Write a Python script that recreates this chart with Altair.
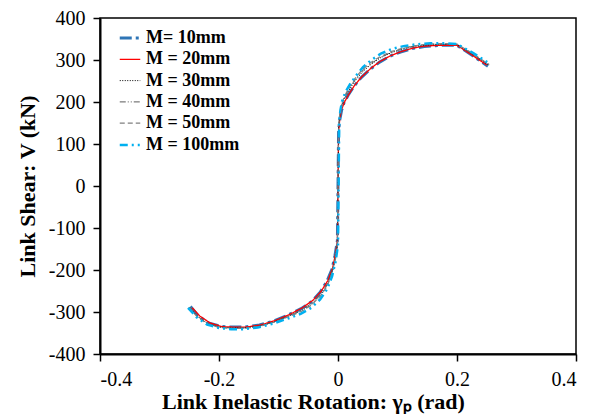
import altair as alt
import pandas as pd

series = ["M= 10mm", "M = 20mm", "M = 30mm", "M = 40mm", "M = 50mm", "M = 100mm"]
colors = ["#2E75B6", "#FF0000", "#000000", "#595959", "#808080", "#00B0F0"]
dashes = [[12, 4, 3, 4], [1, 0], [1, 1.5], [6, 2, 1, 2, 1, 2], [5, 3], [8, 4, 2, 4, 2, 4]]
widths = [3, 1.3, 1, 1, 1.2, 2.5]

x10 = [-0.248, -0.235, -0.218, -0.198, -0.178, -0.157, -0.132, -0.107, -0.082, -0.062, -0.044, -0.030, -0.019, -0.010, -0.005, -0.001,
       0.001, 0.003, 0.006, 0.010, 0.017, 0.027, 0.039, 0.054, 0.070, 0.087, 0.105, 0.124, 0.145, 0.170, 0.200, 0.226, 0.252]
y10 = [-287, -309, -326, -334, -336, -336, -331, -321, -306, -292, -275, -253, -228, -198, -165, -130,
       130, 158, 180, 198, 216, 238, 258, 278, 295, 309, 319, 327, 332, 335, 335, 311, 285]

x20 = [-0.245, -0.232, -0.215, -0.195, -0.175, -0.155, -0.130, -0.105, -0.080, -0.060, -0.042, -0.028, -0.017, -0.009, -0.004, -0.001,
       0.001, 0.003, 0.006, 0.011, 0.018, 0.028, 0.040, 0.055, 0.070, 0.088, 0.106, 0.125, 0.145, 0.170, 0.200, 0.225, 0.250]
y20 = [-290, -310, -326, -335, -336, -336, -331, -320, -305, -290, -272, -250, -225, -195, -160, -130,
       130, 160, 182, 200, 218, 240, 260, 280, 296, 310, 320, 328, 333, 335, 335, 312, 288]

x30 = [-0.250, -0.236, -0.219, -0.199, -0.178, -0.157, -0.133, -0.108, -0.083, -0.061, -0.044, -0.029, -0.018, -0.010, -0.004, -0.001,
       0.001, 0.003, 0.006, 0.011, 0.018, 0.028, 0.040, 0.055, 0.071, 0.089, 0.108, 0.127, 0.150, 0.175, 0.200, 0.226, 0.253]
y30 = [-289, -311, -328, -336, -338, -338, -334, -324, -310, -297, -282, -261, -236, -205, -170, -135,
       138, 168, 190, 208, 227, 249, 270, 289, 305, 317, 326, 332, 336, 337, 337, 314, 288]

x40 = [-0.249, -0.236, -0.219, -0.199, -0.179, -0.158, -0.133, -0.108, -0.084, -0.062, -0.045, -0.030, -0.018, -0.010, -0.004, -0.001,
       0.001, 0.003, 0.006, 0.011, 0.018, 0.028, 0.040, 0.055, 0.071, 0.089, 0.108, 0.128, 0.150, 0.175, 0.200, 0.226, 0.254]
y40 = [-288, -310, -327, -336, -338, -338, -334, -324, -310, -296, -280, -259, -234, -203, -168, -135,
       140, 170, 192, 211, 230, 252, 273, 291, 306, 318, 327, 333, 337, 338, 337, 314, 289]

x50 = [-0.250, -0.237, -0.220, -0.200, -0.179, -0.158, -0.134, -0.109, -0.084, -0.062, -0.045, -0.030, -0.018, -0.010, -0.004, -0.001,
       0.001, 0.003, 0.006, 0.011, 0.018, 0.028, 0.040, 0.055, 0.071, 0.089, 0.108, 0.128, 0.152, 0.177, 0.200, 0.227, 0.254]
y50 = [-289, -311, -328, -337, -339, -339, -335, -325, -312, -299, -284, -263, -238, -207, -172, -137,
       142, 172, 195, 214, 233, 255, 276, 294, 308, 320, 328, 334, 338, 339, 338, 315, 289]

x100 = [-0.252, -0.238, -0.220, -0.200, -0.180, -0.160, -0.135, -0.110, -0.085, -0.062, -0.045, -0.030, -0.018, -0.010, -0.004, 0.000,
        0.002, 0.004, 0.007, 0.012, 0.020, 0.030, 0.042, 0.056, 0.072, 0.090, 0.110, 0.130, 0.155, 0.180, 0.200, 0.228, 0.256]
y100 = [-290, -312, -330, -338, -341, -341, -337, -328, -316, -304, -290, -270, -245, -215, -180, -140,
        150, 180, 202, 222, 242, 262, 283, 300, 315, 326, 333, 337, 340, 340, 338, 316, 290]

xs = [x10, x20, x30, x40, x50, x100]
ys = [y10, y20, y30, y40, y50, y100]

rows = []
for s, xv, yv in zip(series, xs, ys):
    for i, (a, b) in enumerate(zip(xv, yv)):
        rows.append({"series": s, "x": a, "y": b, "i": i})
df = pd.DataFrame(rows)

x_ticks = [-0.4, -0.2, 0, 0.2, 0.4]
y_ticks = [-400, -300, -200, -100, 0, 100, 200, 300, 400]

layers = []
for s in series:
    layers.append(
        alt.Chart(df[df["series"] == s]).mark_line(clip=True).encode(
            x=alt.X("x:Q", scale=alt.Scale(domain=[-0.4, 0.4], nice=False),
                    axis=alt.Axis(values=x_ticks, labelExpr="'' + datum.value",
                                  title="Link Inelastic Rotation: γₚ (rad)",
                                  titleX=213, titleY=54, titleAlign="center",
                                  titleBaseline="alphabetic", labelPadding=8)),
            y=alt.Y("y:Q", scale=alt.Scale(domain=[-400, 400], nice=False),
                    axis=alt.Axis(values=y_ticks, labelExpr="'' + datum.value",
                                  title="Link Shear: V (kN)",
                                  titleX=-73, titleY=168, titleAngle=-90,
                                  titleAlign="center", titleBaseline="middle",
                                  labelPadding=8)),
            color=alt.Color("series:N", scale=alt.Scale(domain=series, range=colors), legend=alt.Legend(title=None)),
            strokeDash=alt.StrokeDash("series:N", scale=alt.Scale(domain=series, range=dashes), legend=alt.Legend(title=None)),
            strokeWidth=alt.StrokeWidth("series:N", scale=alt.Scale(type="ordinal", domain=series, range=widths), legend=alt.Legend(title=None)),
            order="i:Q",
        )
    )

chart = alt.layer(*layers).properties(
    width=476, height=336,
    autosize=alt.AutoSizeParams(type="none"),
    padding={"left": 100, "top": 18, "right": 22, "bottom": 60},
    background="white",
).configure_view(
    stroke="black", strokeWidth=1.5
).configure_axis(
    grid=False, domainColor="black", domainWidth=2, tickColor="black",
    tickWidth=1.5, tickSize=7, labelFont="Liberation Serif", labelFontSize=20,
    labelColor="black", titleFont="Liberation Serif", titleFontSize=22,
    titleFontWeight="bold", titleColor="black",
).configure_legend(
    orient="none", legendX=18, legendY=8, symbolType="stroke", symbolSize=420,
    labelFont="Liberation Serif", labelFontSize=18, labelFontWeight="bold",
    labelColor="black", rowPadding=1.3, padding=0, labelOffset=4,
    labelLimit=300,
)

chart.save("out.html", embed_options={"renderer": "svg", "actions": False})
